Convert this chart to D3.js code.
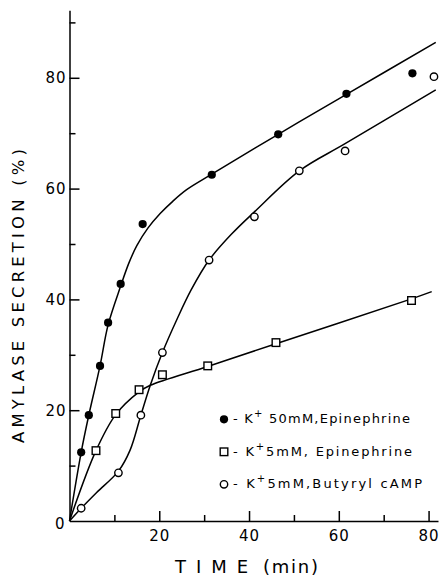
<!DOCTYPE html>
<html>
<head>
<meta charset="utf-8">
<script src="https://cdn.jsdelivr.net/npm/d3@7"></script>
<style>
body { margin: 0; background: #fff; }
svg { display: block; font-family: "DejaVu Sans", sans-serif; }
</style>
</head>
<body>
<svg width="444" height="576"></svg>
<script>
// measured points (time in min, secretion in %)
var k50EpiTime = [2.6, 4.3, 6.8, 8.6, 11.4, 16.3, 31.7, 46.5, 61.7, 76.4];
var k50EpiSecretion = [12.4, 19.1, 28.0, 35.8, 42.8, 53.6, 62.5, 69.8, 77.1, 80.8];

var k5EpiTime = [5.9, 10.3, 15.5, 20.7, 30.8, 46.0, 76.2];
var k5EpiSecretion = [12.7, 19.4, 23.7, 26.4, 28.0, 32.2, 39.8];

var k5CampTime = [2.6, 10.9, 15.9, 20.7, 31.1, 41.2, 51.2, 61.4, 81.2];
var k5CampSecretion = [2.3, 8.7, 19.1, 30.4, 47.1, 54.9, 63.2, 66.8, 80.2];

// hand drawn fitted curves
var k50EpiFitTime = [0, 2.6, 4.3, 6.8, 8.6, 11.4, 13.2, 15, 17.5, 20.2, 23, 26.1, 31.7, 46.5, 61.7, 81.6];
var k50EpiFitSecretion = [0, 12.4, 19.1, 28, 35.4, 42.4, 46.5, 49.7, 52.9, 55.5, 57.7, 59.8, 62.6, 69.8, 77, 86.4];

var k5EpiFitTime = [0, 5.9, 10.3, 15.5, 18, 30.8, 46, 76.2, 80.7];
var k5EpiFitSecretion = [0, 12.7, 19.2, 23.3, 24.5, 27.9, 32.0, 40.1, 41.4];

var k5CampFitTime = [0, 2.6, 6, 10.9, 13.5, 15.9, 18, 20.7, 24, 27.1, 31.1, 36, 41.2, 51.2, 61.4, 81.6];
var k5CampFitSecretion = [0, 2.3, 5.1, 9.0, 12.8, 19.1, 24.5, 30.4, 36.5, 41.7, 47.1, 51.7, 55.8, 63.2, 68.1, 77.8];

var xMajorTicks = [20, 40, 60, 80];
var xMinorTicks = [10, 30, 50, 70];
var yMajorTicks = [20, 40, 60, 80];
var yMinorTicks = [10, 30, 50, 70, 90];

var legendLabels = [
    { type: "filled", pre: "- K", sup: "+", post: " 50mM,Epinephrine", len: 177 },
    { type: "square", pre: "- K", sup: "+", post: "5mM, Epinephrine", len: 179 },
    { type: "open", pre: "- K", sup: "+", post: "5mM,Butyryl cAMP", len: 189 }
];

function zip(xs, ys) {
    return xs.map(function(d, i) { return { t: d, v: ys[i] }; });
}

var svg = d3.select("svg");

var x = d3.scaleLinear().domain([0, 82.1]).range([69.5, 438]);
var y = d3.scaleLinear().domain([0, 92.2]).range([521, 10.2]);

// axes
var xg = svg.append("g").attr("transform", "translate(0," + y(0) + ")");
xg.call(d3.axisBottom(x).tickValues(xMajorTicks).tickSize(-10).tickSizeOuter(0).tickPadding(9));
xg.append("g").call(d3.axisBottom(x).tickValues(xMinorTicks).tickSize(-6).tickFormat(""))
    .select(".domain").remove();

var yg = svg.append("g").attr("transform", "translate(" + x(0) + ",0)");
yg.call(d3.axisLeft(y).tickValues(yMajorTicks).tickSize(-10).tickSizeOuter(0).tickPadding(3));
yg.append("g").call(d3.axisLeft(y).tickValues(yMinorTicks).tickSize(-6).tickFormat(""))
    .select(".domain").remove();

svg.selectAll(".domain, .tick line").attr("stroke", "#000").attr("stroke-width", 1.5);
svg.selectAll(".tick text")
    .attr("font-family", "DejaVu Sans, sans-serif")
    .attr("font-size", 15)
    .attr("letter-spacing", 1)
    .attr("fill", "#000");

svg.append("text")
    .attr("x", x(0) - 5)
    .attr("y", y(0) + 3)
    .attr("dy", "0.35em")
    .attr("text-anchor", "end")
    .attr("font-size", 15)
    .text("0");

// axis titles
svg.append("text")
    .attr("transform", "translate(24,443) rotate(-90)")
    .attr("font-size", 16.5)
    .attr("textLength", 294)
    .attr("lengthAdjust", "spacing")
    .text("AMYLASE SECRETION (%)");

svg.append("text")
    .attr("x", 175).attr("y", 572.5)
    .attr("font-size", 18)
    .attr("textLength", 73)
    .attr("lengthAdjust", "spacing")
    .text("TIME");
svg.append("text")
    .attr("x", 263).attr("y", 572.5)
    .attr("font-size", 18)
    .attr("textLength", 55)
    .attr("lengthAdjust", "spacing")
    .text("(min)");

// fitted curves
var line = d3.line()
    .x(function(d) { return x(d.t); })
    .y(function(d) { return y(d.v); })
    .curve(d3.curveCatmullRom.alpha(0.5));

[zip(k50EpiFitTime, k50EpiFitSecretion),
 zip(k5EpiFitTime, k5EpiFitSecretion),
 zip(k5CampFitTime, k5CampFitSecretion)].forEach(function(data) {
    svg.append("path")
        .datum(data)
        .attr("d", line)
        .attr("fill", "none")
        .attr("stroke", "#000")
        .attr("stroke-width", 1.5);
});

// markers
function drawMarker(sel, type) {
    if (type == "square") {
        sel.append("rect")
            .attr("x", -3.8).attr("y", -3.8)
            .attr("width", 7.6).attr("height", 7.6)
            .attr("fill", "#fff").attr("stroke", "#000").attr("stroke-width", 1.4);
    } else {
        sel.append("circle")
            .attr("r", type == "filled" ? 4.1 : 3.7)
            .attr("fill", type == "filled" ? "#000" : "#fff")
            .attr("stroke", "#000").attr("stroke-width", type == "filled" ? 0 : 1.4);
    }
}

[[zip(k50EpiTime, k50EpiSecretion), "filled"],
 [zip(k5EpiTime, k5EpiSecretion), "square"],
 [zip(k5CampTime, k5CampSecretion), "open"]].forEach(function(s) {
    svg.append("g").selectAll("g")
        .data(s[0])
        .enter().append("g")
        .attr("transform", function(d) { return "translate(" + x(d.t) + "," + y(d.v) + ")"; })
        .each(function() { drawMarker(d3.select(this), s[1]); });
});

// legend
var legend = svg.append("g").selectAll("g")
    .data(legendLabels)
    .enter().append("g")
    .attr("transform", function(d, i) { return "translate(224," + (423.3 + i * 32.5) + ")"; });

legend.each(function(d) {
    var g = d3.select(this);
    drawMarker(g.append("g").attr("transform", "translate(0,-4)"), d.type);
    var t = g.append("text")
        .attr("x", 9)
        .attr("font-size", 13)
        .attr("textLength", d.len)
        .attr("lengthAdjust", "spacing");
    t.append("tspan").text(d.pre);
    t.append("tspan").attr("font-size", 10).attr("dy", -6).text(d.sup);
    t.append("tspan").attr("dy", 6).text(d.post);
});
</script>
</body>
</html>
